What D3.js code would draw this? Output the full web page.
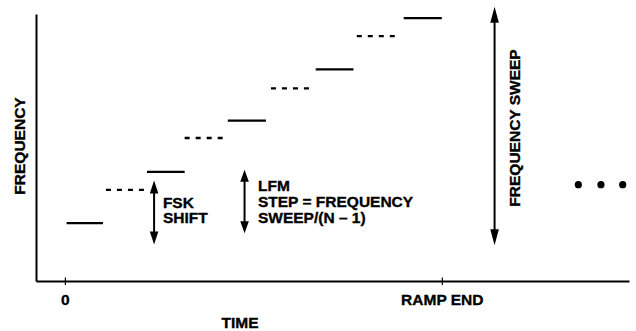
<!DOCTYPE html>
<html>
<head>
<meta charset="utf-8">
<script src="https://cdn.jsdelivr.net/npm/d3@7"></script>
<style>
  body { margin: 0; background: #fff; }
  text { font-family: "Liberation Sans", Arial, sans-serif; font-weight: bold; font-size: 15.5px; fill: #000; stroke: #000; stroke-width: 0.35px; }
</style>
</head>
<body>
<svg id="chart"></svg>
<script>
// frequency steps: time in step units (0 .. ramp end = 9), frequency in LFM step units
const stepStart = [0.04, 0.98, 1.96, 2.86, 3.89, 4.92, 5.99, 6.97, 8.09];
const stepEnd   = [0.91, 1.95, 2.86, 3.84, 4.80, 5.90, 6.89, 7.95, 9.00];
const stepFreq  = [1.00, 1.65, 2.00, 2.66, 3.00, 3.63, 4.00, 4.65, 5.00];
const stepKind  = ["lfm", "fsk", "lfm", "fsk", "lfm", "fsk", "lfm", "fsk", "lfm"];

const tickValues = [0, 9];
const tickLabels = ["0", "RAMP END"];

// double arrows: [time, low freq, high freq]
const arrowTime = [2.13, 4.29, 10.26];
const arrowLow  = [0.58, 0.80, 0.57];
const arrowHigh = [1.83, 2.04, 5.22];
const arrowHead = [13, 12, 16];

const dotTime = [12.26, 12.80, 13.32];
const dotFreq = 1.75;

const width = 636, height = 331;

const svg = d3.select("#chart")
    .attr("width", width)
    .attr("height", height);

const x = d3.scaleLinear().domain([-0.69, 13.47]).range([36, 629]);
const y = d3.scaleLinear().domain([-0.13, 5.08]).range([281, 14]);

// x axis
const xAxis = svg.append("g")
    .attr("transform", `translate(0,${y(-0.13)})`)
    .call(d3.axisBottom(x)
        .tickValues(tickValues)
        .tickFormat((d, i) => tickLabels[i])
        .tickSizeOuter(0));
xAxis.select(".domain").attr("stroke", "#000").attr("stroke-width", 1.8);
xAxis.selectAll(".tick line").attr("y1", -3.5).attr("y2", 4).attr("stroke-width", 1.2);
xAxis.selectAll(".tick text")
    .attr("y", 24)
    .attr("dy", 0)
    .attr("font-size", null)
    .attr("font-family", null);

// y axis (plain line)
const yAxis = svg.append("g")
    .attr("transform", `translate(${x(-0.69)},0)`)
    .call(d3.axisLeft(y).tickValues([]).tickSizeOuter(0));
yAxis.select(".domain").attr("stroke", "#000").attr("stroke-width", 2);

// steps
const steps = stepStart.map((s, i) => ({ s: s, e: stepEnd[i], f: stepFreq[i], k: stepKind[i] }));
svg.selectAll(".step")
    .data(steps)
    .join("line")
    .attr("class", "step")
    .attr("x1", d => x(d.s))
    .attr("x2", d => x(d.e))
    .attr("y1", d => y(d.f))
    .attr("y2", d => y(d.f))
    .attr("stroke", "#000")
    .attr("stroke-width", 2.3)
    .attr("stroke-dasharray", d => d.k == "fsk" ? "5,6" : null);

// arrows
const arrows = arrowTime.map((t, i) => ({ t: t, lo: arrowLow[i], hi: arrowHigh[i], h: arrowHead[i] }));
const ag = svg.selectAll(".arrow")
    .data(arrows)
    .join("g")
    .attr("class", "arrow");

ag.append("line")
    .attr("x1", d => x(d.t))
    .attr("x2", d => x(d.t))
    .attr("y1", d => y(d.hi) + d.h - 2)
    .attr("y2", d => y(d.lo) - d.h + 2)
    .attr("stroke", "#000")
    .attr("stroke-width", 2);

ag.append("path")
    .attr("d", d => {
        const cx = x(d.t), top = y(d.hi), bot = y(d.lo);
        return `M${cx},${top}L${cx - 4.3},${top + d.h}L${cx + 4.3},${top + d.h}Z` +
               `M${cx},${bot}L${cx - 4.3},${bot - d.h}L${cx + 4.3},${bot - d.h}Z`;
    })
    .attr("fill", "#000");

// continuation dots
svg.selectAll(".dot")
    .data(dotTime)
    .join("circle")
    .attr("class", "dot")
    .attr("cx", d => x(d))
    .attr("cy", y(dotFreq))
    .attr("r", 3.6)
    .attr("fill", "#000");

// annotation text
svg.append("text").attr("x", x(2.34)).attr("y", 207.7).text("FSK");
svg.append("text").attr("x", x(2.34)).attr("y", 223.3).text("SHIFT");

svg.append("text").attr("x", x(4.61)).attr("y", 190.7).text("LFM");
svg.append("text").attr("x", x(4.61)).attr("y", 206.7).text("STEP = FREQUENCY");
svg.append("text").attr("x", x(4.61)).attr("y", 222.7).text("SWEEP/(N \u2013 1)");

svg.append("text")
    .attr("transform", `translate(520,128) rotate(-90)`)
    .attr("text-anchor", "middle")
    .text("FREQUENCY SWEEP");

// axis titles
svg.append("text")
    .attr("transform", `translate(25,146) rotate(-90)`)
    .attr("text-anchor", "middle")
    .text("FREQUENCY");

svg.append("text")
    .attr("x", 240)
    .attr("y", 327.7)
    .attr("text-anchor", "middle")
    .text("TIME");
</script>
</body>
</html>
